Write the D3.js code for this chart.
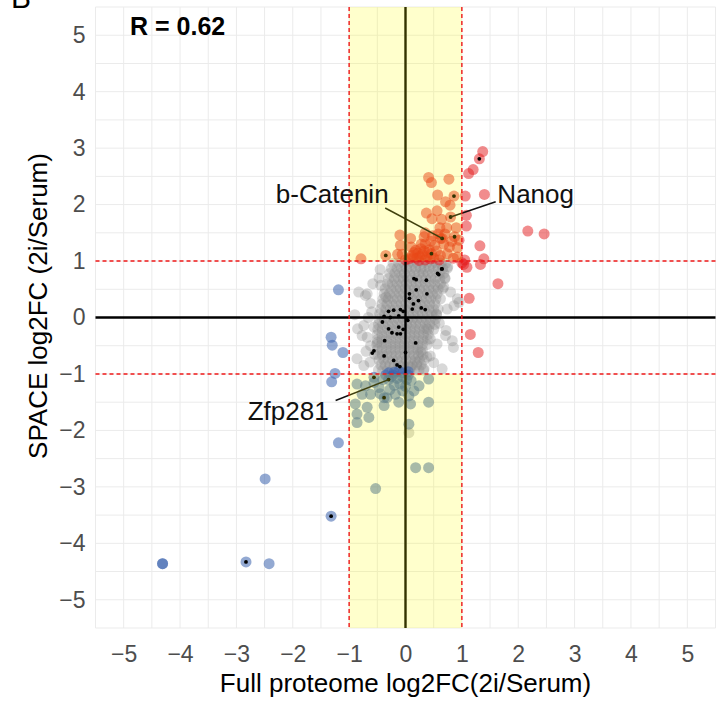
<!DOCTYPE html>
<html>
<head>
<meta charset="utf-8">
<script src="https://cdn.jsdelivr.net/npm/d3@7"></script>
<style>
  body { margin: 0; background: #fff; }
  svg { font-family: "Liberation Sans", Arial, sans-serif; }
</style>
</head>
<body>
<svg id="chart" width="724" height="702"></svg>
<script>
// ---- data ----
const xTicks = [-5, -4, -3, -2, -1, 0, 1, 2, 3, 4, 5];
const yTicks = [-5, -4, -3, -2, -1, 0, 1, 2, 3, 4, 5];
const cutoff = 1;
const rValue = "R = 0.62";

// up-regulated (red)
const upPoints = [
  [0.41,2.48],[0.46,2.39],[0.77,2.45],[0.57,2.17],[0.86,2.15],[0.71,2.05],[0.79,1.99],
  [0.37,1.85],[0.56,1.89],[0.64,1.74],[0.47,1.75],[0.80,1.78],[0.73,1.59],[0.61,1.59],
  [0.90,1.59],[0.35,1.50],[0.62,1.40],[0.87,1.43],[0.65,1.40],[0.52,1.28],[0.78,1.25],
  [0.92,1.24],[-0.09,1.28],[-0.14,1.12],[-0.06,1.12],[0.12,1.10],[0.27,1.22],[0.35,1.31],
  [0.24,1.01],[0.46,1.13],[0.38,1.07],[0.62,1.10],[0.74,1.13],[0.92,1.07],[0.95,1.37],
  [-0.79,1.04],[-0.35,1.10],[0.18,1.19],[0.06,1.04],[0.33,1.43],[-0.10,1.46],[0.09,1.40],
  [0.20,1.05],[0.30,1.12],[0.15,1.15],[0.42,1.20],[0.50,1.05],[0.55,1.18],[0.28,1.30],
  [0.45,1.35],[0.68,1.30],[0.58,1.48],[0.70,1.48],[0.82,1.35],[0.00,1.02],[0.10,1.25],
  [0.35,1.02],[0.48,1.45],[0.25,1.08],[0.40,1.15],[0.60,1.02],[0.85,1.05],[0.22,1.14],
  [0.33,1.18],[0.13,1.06],[0.44,1.04],
  [1.37,2.94],[1.31,2.81],[1.20,2.62],[1.12,2.55],[1.40,2.18],[1.06,2.15],[1.08,1.81],
  [1.08,1.62],[2.17,1.53],[2.46,1.48],[1.32,1.27],[1.39,1.04],[1.33,0.94],[1.03,0.94],
  [1.09,0.89],[1.64,0.60],[1.13,0.34],[1.15,-0.30],[1.29,-0.62],[1.05,1.02],[1.00,0.97]
];

// down-regulated (blue)
const downPoints = [
  [-0.86,-1.18],[-0.71,-1.21],[-0.77,-1.36],[-0.56,-1.15],[-0.47,-1.24],[-0.62,-1.36],
  [-0.89,-1.53],[-0.68,-1.59],[-0.86,-1.71],[-0.65,-1.77],[-0.86,-1.86],[-0.38,-1.56],
  [-0.33,-1.42],[-0.18,-1.36],[-0.12,-1.50],[0.06,-1.39],[0.09,-1.53],[0.24,-1.21],
  [0.41,-1.09],[0.41,-1.50],[0.06,-1.89],[0.18,-2.66],[0.41,-2.66],[-0.53,-3.03],
  [-0.56,-1.06],[-0.30,-1.10],[-0.38,-1.42],[-0.25,-1.05],[-0.15,-1.08],[-0.05,-1.05],
  [0.02,-1.10],[-0.20,-1.20],[-0.10,-1.18],[0.00,-1.22],[-0.28,-1.28],[-0.40,-1.10],
  [0.10,-1.12],[-0.05,-1.30],[0.15,-1.30],[-0.45,-1.35],[-0.22,-1.02],[-0.35,-1.02],
  [0.05,-1.02],[-0.20,-0.97],[-0.05,-0.98],[0.05,-0.96],[-0.30,-0.98],[-0.12,-0.95],
  [-1.19,0.49],[-1.32,-0.35],[-1.30,-0.49],[-1.11,-0.62],[-1.25,-0.99],[-1.31,-1.14],
  [-1.19,-2.22],[-2.49,-2.86],[-1.32,-3.52],[-4.31,-4.36],[-4.31,-4.36],[-2.83,-4.33],
  [-2.42,-4.36]
];

// unchanged proteins (grey), row by row of the dense cloud
const grayRows = [
  { y: 0.96, xs: [-0.22,-0.12,-0.03,0.05,0.14,0.21,0.30,0.38,0.47,0.55,0.63,0.71] },
  { y: 0.87, xs: [-0.25,-0.15,-0.07,0.02,0.10,0.18,0.27,0.33,0.42,0.50,0.58,0.66,0.74] },
  { y: 0.78, xs: [-0.28,-0.19,-0.10,-0.02,0.07,0.16,0.24,0.31,0.40,0.48,0.60,0.68] },
  { y: 0.69, xs: [-0.30,-0.20,-0.12,-0.04,0.04,0.12,0.20,0.29,0.36,0.45,0.53,0.61,0.70] },
  { y: 0.60, xs: [-0.32,-0.24,-0.15,-0.06,0.02,0.10,0.19,0.26,0.35,0.44,0.52,0.62] },
  { y: 0.51, xs: [-0.36,-0.26,-0.17,-0.09,0.00,0.08,0.16,0.25,0.33,0.41,0.50,0.58,0.66] },
  { y: 0.42, xs: [-0.38,-0.29,-0.20,-0.11,-0.03,0.06,0.14,0.22,0.31,0.39,0.48,0.56] },
  { y: 0.33, xs: [-0.40,-0.31,-0.22,-0.14,-0.05,0.04,0.12,0.20,0.28,0.37,0.45,0.54,0.62] },
  { y: 0.24, xs: [-0.42,-0.33,-0.24,-0.16,-0.07,0.01,0.10,0.18,0.26,0.34,0.43,0.52] },
  { y: 0.15, xs: [-0.44,-0.35,-0.27,-0.18,-0.09,-0.01,0.08,0.16,0.24,0.33,0.41,0.50,0.58] },
  { y: 0.06, xs: [-0.46,-0.37,-0.29,-0.20,-0.11,-0.03,0.05,0.14,0.22,0.30,0.39,0.47,0.55] },
  { y: -0.03, xs: [-0.47,-0.38,-0.30,-0.21,-0.13,-0.04,0.04,0.12,0.20,0.28,0.36,0.44,0.53] },
  { y: -0.12, xs: [-0.48,-0.40,-0.31,-0.23,-0.14,-0.06,0.02,0.10,0.18,0.26,0.35,0.43,0.52] },
  { y: -0.21, xs: [-0.49,-0.41,-0.32,-0.24,-0.15,-0.07,0.01,0.09,0.17,0.25,0.33,0.41,0.50] },
  { y: -0.30, xs: [-0.50,-0.42,-0.33,-0.25,-0.16,-0.08,0.00,0.08,0.16,0.24,0.32,0.40] },
  { y: -0.39, xs: [-0.50,-0.42,-0.34,-0.26,-0.17,-0.09,-0.01,0.07,0.15,0.23,0.31,0.39] },
  { y: -0.48, xs: [-0.51,-0.43,-0.34,-0.26,-0.18,-0.10,-0.02,0.06,0.14,0.22,0.30,0.38] },
  { y: -0.57, xs: [-0.50,-0.42,-0.34,-0.26,-0.18,-0.10,-0.02,0.06,0.14,0.22,0.30] },
  { y: -0.66, xs: [-0.49,-0.41,-0.33,-0.25,-0.17,-0.09,-0.01,0.07,0.15,0.23,0.31] },
  { y: -0.75, xs: [-0.47,-0.39,-0.31,-0.23,-0.15,-0.07,0.01,0.09,0.17,0.25,0.33] },
  { y: -0.84, xs: [-0.44,-0.36,-0.28,-0.20,-0.12,-0.04,0.04,0.12,0.20,0.28] },
  { y: -0.93, xs: [-0.48,-0.40,-0.32,-0.24,-0.16,-0.08,0.00,0.08,0.16,0.24,0.32] }
];

// scattered grey points around the cloud
const grayExtra = [
  [-0.83,0.45],[-0.71,0.39],[-0.47,0.70],[-0.44,0.57],[-0.35,0.36],[-0.74,-0.14],
  [-0.77,-0.32],[-0.68,-0.35],[-0.56,-0.17],[-0.50,-0.44],[-0.74,-0.85],[-0.63,-0.79],
  [0.44,-0.38],[0.56,-0.47],[0.71,-0.32],[0.83,-0.41],[0.44,-0.68],[0.74,0.15],
  [0.86,0.21],[0.92,0.33],[0.80,0.45],[0.68,0.54],[0.65,-0.91],[0.21,-0.79],
  [0.33,-0.91],[0.38,-0.20],[0.27,-0.61],[-0.68,0.42],[-0.86,-0.73],[0.95,0.27],
  [0.85,-0.53],[0.72,-0.23],[0.38,-0.70],[0.09,-0.88],[0.06,-2.04],[-0.60,0.10],
  [-0.62,-0.50],[0.55,0.05],[0.60,-0.10],[0.70,0.70],[0.75,0.90],[-0.45,0.85],
  [-0.55,-0.65],[0.50,-0.80],[-0.90,0.05],[-0.85,-0.20],[-0.62,0.25],[-0.58,0.60],
  [-0.70,-0.60],[-0.66,0.00]
];

// proteins marked with a black dot
const markedPoints = [
  [0.64,0.86],[0.15,0.69],[0.19,0.67],[0.37,0.66],[0.57,0.78],[0.19,0.49],[0.07,0.42],
  [0.38,0.42],[0.07,0.34],[0.23,0.30],[0.14,0.24],[0.28,0.17],[0.35,0.14],[0.12,0.15],
  [-0.30,0.11],[-0.21,0.13],[-0.09,0.14],[-0.04,0.11],[-0.12,0.03],[-0.38,0.02],
  [-0.27,0.00],[0.02,-0.02],[0.04,-0.05],[-0.41,-0.08],[-0.12,-0.17],[-0.30,-0.20],
  [-0.24,-0.27],[-0.15,-0.29],[-0.09,-0.29],[-0.04,-0.21],[-0.37,-0.41],[0.18,-0.45],
  [-0.56,-0.59],[-0.59,-0.63],[-0.38,-0.68],[-0.21,-0.76],[-0.15,-0.84],[-0.10,-0.87],
  [0.00,-0.62],[0.59,0.76],[0.65,0.86],
  [-0.35,1.10],[0.46,1.13],[0.65,1.40],[0.87,1.43],[0.80,1.78],[0.86,2.15],[1.31,2.81],
  [-0.56,-1.06],[-0.30,-1.10],[-0.38,-1.42],[-1.32,-3.52],[-2.83,-4.33]
];

// labelled proteins: text position, leader start, point
const geneLabels = [
  { name: "b-Catenin", tx: -2.3, ty: 2.03, lx: -0.36, ly: 1.94, px: 0.65, py: 1.40 },
  { name: "Nanog", tx: 1.63, ty: 2.03, lx: 1.60, ly: 2.05, px: 0.80, py: 1.78 },
  { name: "Zfp281", tx: -2.8, ty: -1.82, lx: -1.24, ly: -1.47, px: -0.30, py: -1.10 }
];

// ---- layout ----
const svg = d3.select("#chart");
const x = d3.scaleLinear().domain([-5.5, 5.5]).range([95.5, 715.5]);
const y = d3.scaleLinear().domain([-5.5, 5.5]).range([628, 7]);
const [x0, x1] = x.range();
const [y1, y0] = y.range();

// grid (major + minor)
const gridVals = d3.range(-11, 12).map(d => d / 2);
const grid = svg.append("g").attr("class", "grid");
grid.selectAll("line.v").data(gridVals).enter().append("line")
  .attr("x1", d => x(d)).attr("x2", d => x(d))
  .attr("y1", y0).attr("y2", y1)
  .style("stroke", "#ebebeb").style("stroke-width", 1);
grid.selectAll("line.h").data(gridVals).enter().append("line")
  .attr("y1", d => y(d)).attr("y2", d => y(d))
  .attr("x1", x0).attr("x2", x1)
  .style("stroke", "#ebebeb").style("stroke-width", 1);

// points
const grayPoints = grayRows.flatMap(r => r.xs.map(v => [v, r.y])).concat(grayExtra);
const pts = svg.append("g").attr("class", "points");
pts.selectAll("circle.g").data(grayPoints).enter().append("circle")
  .attr("cx", d => x(d[0])).attr("cy", d => y(d[1])).attr("r", 5.5)
  .attr("fill", "#8a8a8a").attr("fill-opacity", 0.33);
pts.selectAll("circle.d").data(downPoints).enter().append("circle")
  .attr("cx", d => x(d[0])).attr("cy", d => y(d[1])).attr("r", 5.5)
  .attr("fill", "#3a62ad").attr("fill-opacity", 0.55);
pts.selectAll("circle.u").data(upPoints).enter().append("circle")
  .attr("cx", d => x(d[0])).attr("cy", d => y(d[1])).attr("r", 5.5)
  .attr("fill", "#e41a1c").attr("fill-opacity", 0.5);
pts.selectAll("circle.m").data(markedPoints).enter().append("circle")
  .attr("cx", d => x(d[0])).attr("cy", d => y(d[1])).attr("r", 1.9)
  .attr("fill", "#000");

// leader lines
svg.append("g").selectAll("line").data(geneLabels).enter().append("line")
  .attr("x1", d => x(d.lx)).attr("y1", d => y(d.ly))
  .attr("x2", d => x(d.px)).attr("y2", d => y(d.py))
  .style("stroke", "#111").style("stroke-width", 1.5);

// zero lines
svg.append("line").attr("x1", x(0)).attr("x2", x(0)).attr("y1", y0).attr("y2", y1)
  .style("stroke", "#000").style("stroke-width", 2.4);
svg.append("line").attr("y1", y(0)).attr("y2", y(0)).attr("x1", x0).attr("x2", x1)
  .style("stroke", "#000").style("stroke-width", 2.4);

// yellow bands (semi-transparent, over points)
svg.append("rect").attr("x", x(-cutoff)).attr("width", x(cutoff) - x(-cutoff))
  .attr("y", y0).attr("height", y(cutoff) - y0)
  .attr("fill", "#ffff00").attr("fill-opacity", 0.2);
svg.append("rect").attr("x", x(-cutoff)).attr("width", x(cutoff) - x(-cutoff))
  .attr("y", y(-cutoff)).attr("height", y1 - y(-cutoff))
  .attr("fill", "#ffff00").attr("fill-opacity", 0.2);

// red dashed thresholds
const dashes = svg.append("g").style("stroke", "#f01818").style("stroke-width", 1.4)
  .style("stroke-dasharray", "4,3");
[-cutoff, cutoff].forEach(c => {
  dashes.append("line").attr("x1", x(c)).attr("x2", x(c)).attr("y1", y0).attr("y2", y1);
  dashes.append("line").attr("y1", y(c)).attr("y2", y(c)).attr("x1", x0).attr("x2", x1);
});

// axes
const xAxis = svg.append("g").attr("transform", `translate(0,${y1 + 6})`)
  .call(d3.axisBottom(x).tickValues(xTicks).tickSize(0).tickPadding(6));
const yAxis = svg.append("g").attr("transform", `translate(${x0 - 6},0)`)
  .call(d3.axisLeft(y).tickValues(yTicks).tickSize(0).tickPadding(4));
[xAxis, yAxis].forEach(a => {
  a.select(".domain").remove();
  a.selectAll("text").style("font-size", "23px").style("fill", "#4d4d4d")
    .style("font-family", "Liberation Sans, Arial, sans-serif");
});
xAxis.selectAll("text").attr("dy", "0.95em");

// titles
svg.append("text").attr("x", x(0)).attr("y", 692).attr("text-anchor", "middle")
  .style("font-size", "26px").text("Full proteome log2FC(2i/Serum)");
svg.append("text").attr("transform", "translate(47,306) rotate(-90)")
  .attr("text-anchor", "middle").style("font-size", "26px")
  .text("SPACE log2FC (2i/Serum)");

// correlation
svg.append("text").attr("x", 130).attr("y", 35)
  .style("font-size", "25px").style("font-weight", "bold").text(rValue);

// panel letter (cut off at top, as in the figure)
svg.append("text").attr("x", 11).attr("y", 8).style("font-size", "30px").text("B");

// gene labels
svg.append("g").selectAll("text").data(geneLabels).enter().append("text")
  .attr("x", d => x(d.tx)).attr("y", d => y(d.ty))
  .style("font-size", "26px").style("fill", "#111").text(d => d.name);
</script>
</body>
</html>
